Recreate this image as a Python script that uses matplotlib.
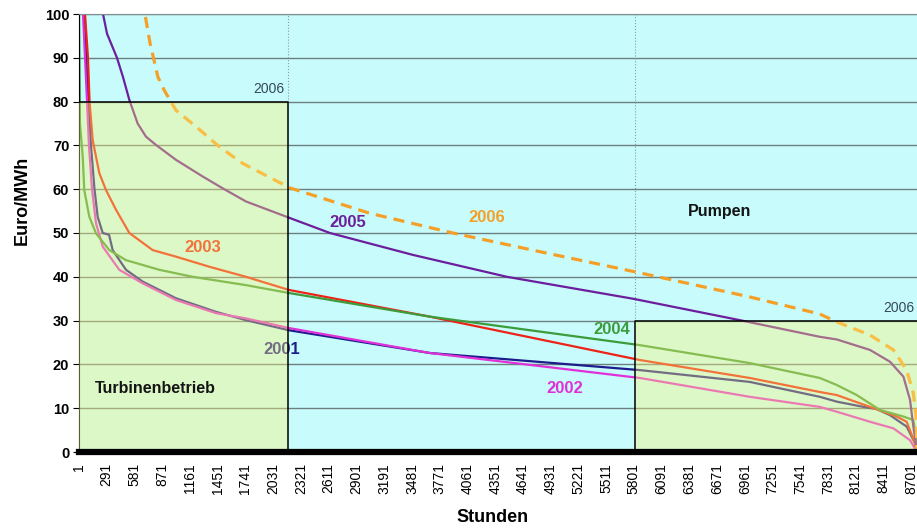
import numpy as np
import matplotlib.pyplot as plt
from matplotlib.patches import Rectangle

plt.rcParams["font.family"] = ["Liberation Sans", "DejaVu Sans"]

# ===================== Daten =====================
# geordnete Jahresdauerlinien: Stunde -> Preis in Euro/MWh
hours_2001 = [1, 53, 100, 126, 163, 196, 249, 315, 353, 492, 667, 1015, 1433, 1746, 2195, 3669, 5863, 7012,
              7744, 7921, 8200, 8339, 8478, 8652, 8739, 8760]
price_2001 = [130, 100, 80, 70, 60, 53.7, 50, 49.6, 46.1, 41.6, 38.9, 35.1, 32, 30.1, 27.8, 22.6, 18.7, 16,
              12.6, 11.5, 10.3, 9.8, 8.4, 5.8, 2, 0]

hours_2002 = [1, 43, 85, 105, 137, 179, 249, 422, 667, 1015, 1433, 1746, 2195, 3669, 5863, 7012,
              7744, 7921, 8269, 8513, 8687, 8760]
price_2002 = [130, 100, 80, 70, 60, 52.2, 46.9, 41.6, 38.5, 34.7, 31.7, 30.5, 28.3, 22.6, 16.9, 12.6,
              10.3, 9.2, 6.9, 5.4, 2.7, 0]

hours_2003 = [1, 64, 95, 111, 144, 213, 283, 388, 527, 771, 1015, 1363, 1746, 2195, 3669, 5863, 7012,
              7744, 7921, 8269, 8548, 8652, 8739, 8760]
price_2003 = [130, 100, 90, 80, 71.2, 63.7, 59.8, 55.3, 50, 46.1, 44.6, 42.3, 40, 37, 30.9, 21, 16.9,
              13.7, 13, 10.3, 8.1, 6.9, 2, 0]

hours_2004 = [1, 11, 40, 56, 109, 179, 318, 492, 840, 1189, 1746, 2195, 3669, 5863, 7012,
              7744, 7921, 8130, 8373, 8618, 8722, 8757, 8760]
price_2004 = [100, 75, 67.4, 59.8, 53.7, 49.9, 46.1, 43.8, 41.6, 40, 38.1, 36.3, 30.9, 24.4, 20.3,
              16.9, 15.3, 13, 9.6, 8.1, 7.3, 2.7, 0]

hours_2005 = [1, 252, 294, 398, 461, 527, 614, 701, 806, 1015, 1294, 1503, 1746, 2195, 2624, 3491, 4473,
              5790, 6908, 7744, 7921, 8269, 8478, 8618, 8687, 8722, 8760]
price_2005 = [170, 100, 95.5, 90, 85.6, 80.4, 75, 72, 70.1, 66.7, 62.9, 60.2, 57.2, 53.5, 50, 45, 40,
              35, 30.1, 26.3, 25.7, 23.3, 20.6, 17.2, 11.9, 5.8, 0]

hours_2006 = [1, 560, 690, 743, 826, 892, 1015, 1224, 1467, 1711, 2205, 3041, 3909, 4891, 5863, 7012,
              7744, 7921, 8269, 8513, 8652, 8722, 8750, 8760]
price_2006 = [220, 118, 100, 93.4, 85.6, 82.6, 78, 74.3, 69.7, 65.9, 60.3, 54.5, 50, 45.4, 40.9, 35.4,
              31.5, 29.7, 26.7, 23.3, 18.7, 13.4, 8.1, 0]

# Betriebsbereiche 2006
turbine_hours = 2190
turbine_price = 80
pump_start = 5810
pump_price = 30

x_ticks = np.arange(1, 8761, 290)
y_ticks = np.arange(0, 101, 10)

# ===================== Grafik =====================
fig = plt.figure(figsize=(9.17, 5.28), dpi=100)
ax = fig.add_axes([79 / 917, 1 - 452 / 528, 838 / 917, 438 / 528])
ax.set_facecolor("#C8FCFC")

for y in y_ticks[1:]:
    ax.axhline(y, color="#6E7E7E", lw=1.0, zorder=0.5)

series = [
    (hours_2001, price_2001, "#1C1C8C"),
    (hours_2002, price_2002, "#E030D8"),
    (hours_2003, price_2003, "#EC2418"),
    (hours_2004, price_2004, "#3C9C3C"),
    (hours_2005, price_2005, "#6C1E9C"),
]
for h, p, c in series:
    ax.plot(h, p, color=c, lw=1.6, zorder=2)
ax.plot(hours_2006, price_2006, color="#F4A028", lw=2.3, dashes=(3.5, 2.2), zorder=2)

# Jahres-Beschriftungen
lab = dict(fontsize=12, fontweight="bold", ha="center", va="center", zorder=2)
ax.text(2122, 23.3, "2001", color="#1C1C8C", **lab)
ax.text(5080, 14.4, "2002", color="#E030D8", **lab)
ax.text(1296, 46.6, "2003", color="#EC2418", **lab)
ax.text(5570, 28.0, "2004", color="#3C9C3C", **lab)
ax.text(2812, 52.5, "2005", color="#6C1E9C", **lab)
ax.text(4265, 53.6, "2006", color="#F4A028", **lab)

# Bereiche (halbtransparent über den Linien)
ax.add_patch(Rectangle((1, 0), turbine_hours - 1, turbine_price, facecolor="#FFF273",
                       alpha=0.38, edgecolor="none", zorder=3))
ax.add_patch(Rectangle((pump_start, 0), 8760 - pump_start, pump_price, facecolor="#FFF273",
                       alpha=0.38, edgecolor="none", zorder=3))
ax.plot([1, turbine_hours, turbine_hours], [turbine_price, turbine_price, 0], color="black", lw=1.1, zorder=4)
ax.plot([8760, pump_start, pump_start], [pump_price, pump_price, 0], color="black", lw=1.1, zorder=4)
ax.plot([turbine_hours, turbine_hours], [turbine_price, 100], color="#8A9A9A", lw=0.8, ls=":", zorder=1)
ax.plot([pump_start, pump_start], [pump_price, 100], color="#8A9A9A", lw=0.8, ls=":", zorder=1)

ax.text(turbine_hours - 40, 81.2, "2006", fontsize=10, color="#34485A", ha="right", va="bottom", zorder=5)
ax.text(8730, 31.2, "2006", fontsize=10, color="#34485A", ha="right", va="bottom", zorder=5)
ax.text(168, 14.6, "Turbinenbetrieb", fontsize=11.5, fontweight="bold", color="#141414",
        ha="left", va="center", zorder=5)
ax.text(6365, 54.8, "Pumpen", fontsize=11.5, fontweight="bold", color="#141414",
        ha="left", va="center", zorder=5)

ax.set_xlim(1, 8760)
ax.set_ylim(0, 100)
ax.set_xticks(x_ticks)
ax.set_xticklabels([str(t) for t in x_ticks], rotation=90, fontsize=10)
ax.set_yticks(y_ticks)
ax.set_yticklabels([str(t) for t in y_ticks], fontsize=10.5, fontweight="bold")
ax.tick_params(axis="x", length=0, pad=8)
ax.tick_params(axis="y", length=4, width=0.8, pad=3)

ax.spines["right"].set_visible(False)
ax.spines["top"].set_color("#7E8E8E")
ax.spines["left"].set_linewidth(0.8)
ax.spines["bottom"].set_linewidth(4.5)
ax.spines["bottom"].set_color("black")
ax.spines["bottom"].set_zorder(6)

fig.text(493 / 917, 1 - 518 / 528, "Stunden", fontsize=13, fontweight="bold", ha="center", va="center")
fig.text(22 / 917, 1 - 200 / 528, "Euro/MWh", fontsize=13, fontweight="bold", rotation=90,
         ha="center", va="center")

fig.savefig("out.png", dpi=100)
